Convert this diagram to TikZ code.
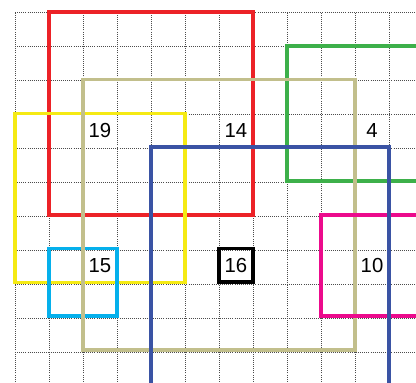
\documentclass[tikz,border=0pt]{standalone}
\usepackage{fontspec}
\setmainfont{Liberation Sans}
\definecolor{cred}{HTML}{EC2227}
\definecolor{cgreen}{HTML}{3DB04A}
\definecolor{ckhaki}{HTML}{C2BF8C}
\definecolor{cyellow}{HTML}{F5EA14}
\definecolor{cblue}{HTML}{3A53A4}
\definecolor{cmag}{HTML}{EC0A8C}
\definecolor{ccyan}{HTML}{05B0EC}
\begin{document}
\begin{tikzpicture}[x=1cm,y=-0.994cm,
  gridline/.style={black!70,line width=0.55pt,dash pattern=on 0.75pt off 1pt},
  sq/.style={line width=3.1pt},
  lbl/.style={font=\fontsize{17}{20}\selectfont,inner sep=0pt}]
\useasboundingbox (-0.441,-0.355) rectangle (11.794,10.976);
\clip (-0.441,-0.355) rectangle (11.794,10.976);
\draw[gridline] (0,0) grid (12,11);
\draw[sq,cred] (1,0) rectangle (7,6);
\draw[sq,cgreen] (8,1) rectangle (13,5);
\draw[sq,cyellow] (0,3) rectangle (5,8);
\draw[sq,ccyan] (1,7) rectangle (3,9);
\draw[sq,ckhaki] (2,2) rectangle (10,10);
\draw[sq,cmag] (9,6) rectangle (13,9);
\draw[sq,cblue] (4,4) rectangle (11,12);
\node[lbl] (n19) at (2.5,3.5) {19};
\node[lbl] (n14) at (6.5,3.5) {14};
\node[lbl] (n4) at (10.5,3.5) {4};
\node[lbl] (n15) at (2.5,7.5) {15};
\node[lbl,draw=black,line width=3.2pt,minimum width=1cm,minimum height=0.994cm] (n16) at (6.5,7.5) {16};
\node[lbl] (n10) at (10.5,7.5) {10};
\end{tikzpicture}
\end{document}
